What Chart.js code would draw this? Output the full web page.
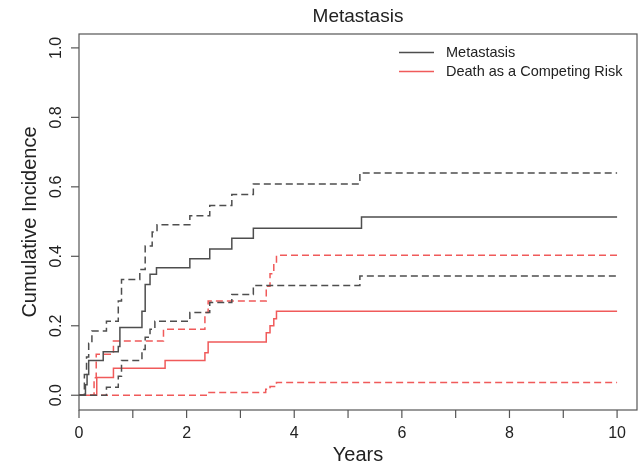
<!DOCTYPE html>
<html>
<head>
<meta charset="utf-8">
<script src="https://cdn.jsdelivr.net/npm/chart.js@4.4.0/dist/chart.umd.min.js"></script>
<style>
  html, body { margin: 0; padding: 0; background: #fff; }
</style>
</head>
<body>
<canvas id="chart" width="638" height="465"></canvas>
<script>
// cumulative incidence step curves: time (years) of each step and value after it
const metTimes = [0, 0.12, 0.15, 0.18, 0.45, 0.73, 0.76, 1.17, 1.23, 1.32, 1.44, 2.06, 2.43, 2.84, 3.24, 5.25, 10];
const metValues = [0, 0.03, 0.06, 0.10, 0.125, 0.14, 0.195, 0.242, 0.319, 0.348, 0.367, 0.393, 0.421, 0.452, 0.481, 0.513, 0.513];

const metUpperTimes = [0, 0.10, 0.14, 0.18, 0.24, 0.51, 0.73, 0.79, 1.13, 1.23, 1.36, 1.45, 2.06, 2.43, 2.84, 3.24, 5.22, 10];
const metUpperValues = [0, 0.06, 0.11, 0.15, 0.185, 0.213, 0.271, 0.333, 0.362, 0.43, 0.47, 0.491, 0.517, 0.546, 0.578, 0.608, 0.64, 0.64];

const metLowerTimes = [0, 0.51, 0.73, 0.79, 1.17, 1.23, 1.32, 1.41, 2.06, 2.43, 2.84, 3.24, 5.22, 10];
const metLowerValues = [0, 0.023, 0.055, 0.10, 0.132, 0.167, 0.19, 0.213, 0.238, 0.267, 0.29, 0.316, 0.343, 0.343];

const deathTimes = [0, 0.33, 0.64, 1.6, 2.34, 2.4, 3.48, 3.55, 3.62, 3.67, 10];
const deathValues = [0, 0.051, 0.078, 0.10, 0.122, 0.153, 0.18, 0.20, 0.22, 0.242, 0.242];

const deathUpperTimes = [0, 0.28, 0.32, 0.64, 1.57, 2.34, 2.4, 3.48, 3.55, 3.62, 3.67, 10];
const deathUpperValues = [0, 0.05, 0.118, 0.156, 0.19, 0.238, 0.271, 0.314, 0.35, 0.38, 0.403, 0.403];

const deathLowerTimes = [0, 2.4, 3.47, 3.55, 3.67, 10];
const deathLowerValues = [0, 0.008, 0.017, 0.025, 0.037, 0.037];

const xTicks = [0, 1, 2, 3, 4, 5, 6, 7, 8, 9, 10];
const xTickLabels = ['0', '', '2', '', '4', '', '6', '', '8', '', '10'];
const yTicks = [0, 0.2, 0.4, 0.6, 0.8, 1.0];
const yTickLabels = ['0.0', '0.2', '0.4', '0.6', '0.8', '1.0'];
const legendLabels = ['Metastasis', 'Death as a Competing Risk'];

const GRAY = '#4e4e4e';
const RED = '#f05a5a';
const FONT = '"Liberation Sans", Arial, sans-serif';

function toPoints(times, values) {
  return times.map((t, i) => ({ x: t, y: values[i] }));
}

function curve(times, values, color, dashed) {
  return {
    data: toPoints(times, values),
    borderColor: color,
    borderWidth: 1.5,
    borderDash: dashed ? [7, 4] : [],
    pointRadius: 0,
    stepped: 'before',
    fill: false
  };
}

// R style frame, axes, labels, title and legend
const rFrame = {
  id: 'rFrame',
  afterDraw(chart) {
    const ctx = chart.ctx;
    const area = chart.chartArea;
    const xs = chart.scales.x;
    const ys = chart.scales.y;
    ctx.save();
    ctx.strokeStyle = '#555';
    ctx.lineWidth = 1.2;
    ctx.strokeRect(area.left, area.top, area.right - area.left, area.bottom - area.top);

    ctx.fillStyle = '#222';
    ctx.textAlign = 'center';
    ctx.textBaseline = 'middle';

    // x axis
    ctx.font = '16px ' + FONT;
    xTicks.forEach((t, i) => {
      const px = xs.getPixelForValue(t);
      ctx.beginPath();
      ctx.moveTo(px, area.bottom);
      ctx.lineTo(px, area.bottom + 8);
      ctx.stroke();
      if (xTickLabels[i]) ctx.fillText(xTickLabels[i], px, 434);
    });

    // y axis
    yTicks.forEach((v, i) => {
      const py = ys.getPixelForValue(v);
      ctx.beginPath();
      ctx.moveTo(area.left - 8, py);
      ctx.lineTo(area.left, py);
      ctx.stroke();
      ctx.save();
      ctx.translate(57, py);
      ctx.rotate(-Math.PI / 2);
      ctx.fillText(yTickLabels[i], 0, 0);
      ctx.restore();
    });

    ctx.font = '20px ' + FONT;
    ctx.fillText('Years', (area.left + area.right) / 2, 455);
    ctx.save();
    ctx.translate(30, (area.top + area.bottom) / 2);
    ctx.rotate(-Math.PI / 2);
    ctx.fillText('Cumulative Incidence', 0, 0);
    ctx.restore();

    ctx.font = '19px ' + FONT;
    ctx.fillText('Metastasis', (area.left + area.right) / 2, 17);

    // legend
    ctx.font = '14.5px ' + FONT;
    ctx.textAlign = 'left';
    [GRAY, RED].forEach((c, i) => {
      const ly = 52.5 + i * 19;
      ctx.strokeStyle = c;
      ctx.lineWidth = 1.5;
      ctx.beginPath();
      ctx.moveTo(399, ly);
      ctx.lineTo(434, ly);
      ctx.stroke();
      ctx.fillText(legendLabels[i], 446, ly);
    });
    ctx.restore();
  }
};

new Chart(document.getElementById('chart'), {
  type: 'line',
  data: {
    datasets: [
      curve(metTimes, metValues, GRAY, false),
      curve(metUpperTimes, metUpperValues, GRAY, true),
      curve(metLowerTimes, metLowerValues, GRAY, true),
      curve(deathTimes, deathValues, RED, false),
      curve(deathUpperTimes, deathUpperValues, RED, true),
      curve(deathLowerTimes, deathLowerValues, RED, true)
    ]
  },
  options: {
    responsive: false,
    animation: false,
    layout: { padding: { left: 79, right: 1, top: 34, bottom: 55 } },
    scales: {
      x: { type: 'linear', min: 0, max: 10.37, display: false },
      y: { type: 'linear', min: -0.0425, max: 1.04, display: false }
    },
    plugins: {
      legend: { display: false },
      tooltip: { enabled: false }
    }
  },
  plugins: [rFrame]
});
</script>
</body>
</html>
